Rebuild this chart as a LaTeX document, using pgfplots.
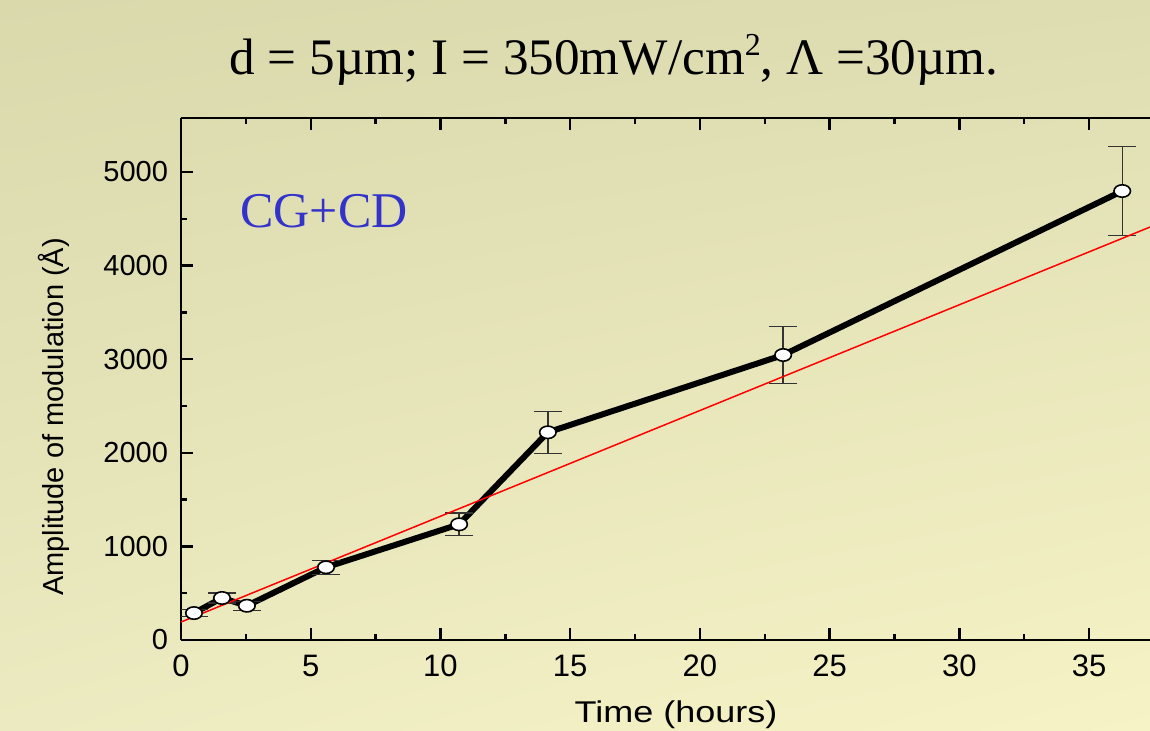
\documentclass[border=0pt]{standalone}
\usepackage{fontspec}
\setmainfont{Liberation Sans}
\newfontfamily\seriffont{Liberation Serif}
\usepackage{graphicx}
\usepackage{pgfplots}
\usetikzlibrary{shadings}
\pgfplotsset{compat=1.18}
\definecolor{bgtl}{RGB}{217,217,172}
\definecolor{bgtr}{RGB}{222,221,178}
\definecolor{bgbl}{RGB}{236,234,192}
\definecolor{bgbr}{RGB}{246,244,198}
\definecolor{cgblue}{RGB}{51,51,204}
\begin{document}
\begin{tikzpicture}[x=1pt,y=1pt]
\useasboundingbox (0,0) rectangle (575,365);
\shade[upper left=bgtl, upper right=bgtr, lower left=bgbl, lower right=bgbr] (0,0) rectangle (575,365);
\begin{axis}[
  at={(90.5pt,45pt)}, anchor=south west,
  scale only axis, width=484.5pt, height=261pt,
  xmin=0, xmax=37.35, ymin=0, ymax=5577,
  axis x line*=box, axis y line*=left,
  tick align=inside,
  xtick={0,5,...,35}, minor x tick num=1,
  ytick={0,1000,...,5000}, minor y tick num=1,
  major tick length=6pt, minor tick length=3pt,
  axis line style={line width=1.3pt},
  every tick/.style={line width=1.2pt, black},
  tick label style={font=\fontsize{14.5}{16}\selectfont},
  xticklabel style={font=\fontsize{15.5}{17}\selectfont, yshift=-4pt},
  /pgf/number format/assume math mode=true,
  /pgf/number format/1000 sep={},
  scaled y ticks=false,
  yticklabel style={xshift=-3pt},
]
\addplot[line width=3pt, black, mark=*,
  mark options={fill=white, draw=black, line width=0.8pt, xscale=1.33, mark size=3.1pt},
  error bars/.cd, y dir=both, y explicit,
  error bar style={line width=0.7pt, black!80},
  error mark options={rotate=90, mark size=7pt, line width=0.7pt, black!80}]
  table[x=x, y=y, y error=e] {
x y e
0.50 288 35
1.58 449 55
2.54 366 48
5.59 777 75
10.72 1236 120
14.14 2219 225
23.21 3045 305
36.28 4797 477
};
\addplot[red, line width=0.75pt] coordinates {(0,192) (37.35,4412)};
\end{axis}
\node[font=\seriffont\fontsize{25.6}{30}\selectfont, anchor=base] at (307,327.5) {d = 5µm; I = 350mW/cm\raisebox{0.38em}{\fontsize{16}{16}\selectfont 2}, Λ =30µm.};
\node[font=\seriffont\fontsize{25}{30}\selectfont, text=cgblue, anchor=base west, inner sep=0pt] at (120,251.5) {CG+CD};
\node[anchor=base, font=\fontsize{15}{18}\selectfont, inner sep=0pt] at (338,4) {\scalebox{1.2}[1]{Time (hours)}};
\node[rotate=90, anchor=base, font=\fontsize{14.5}{18}\selectfont, inner sep=0pt] at (32,156.5) {Amplitude of modulation (Å)};
\end{tikzpicture}
\end{document}
